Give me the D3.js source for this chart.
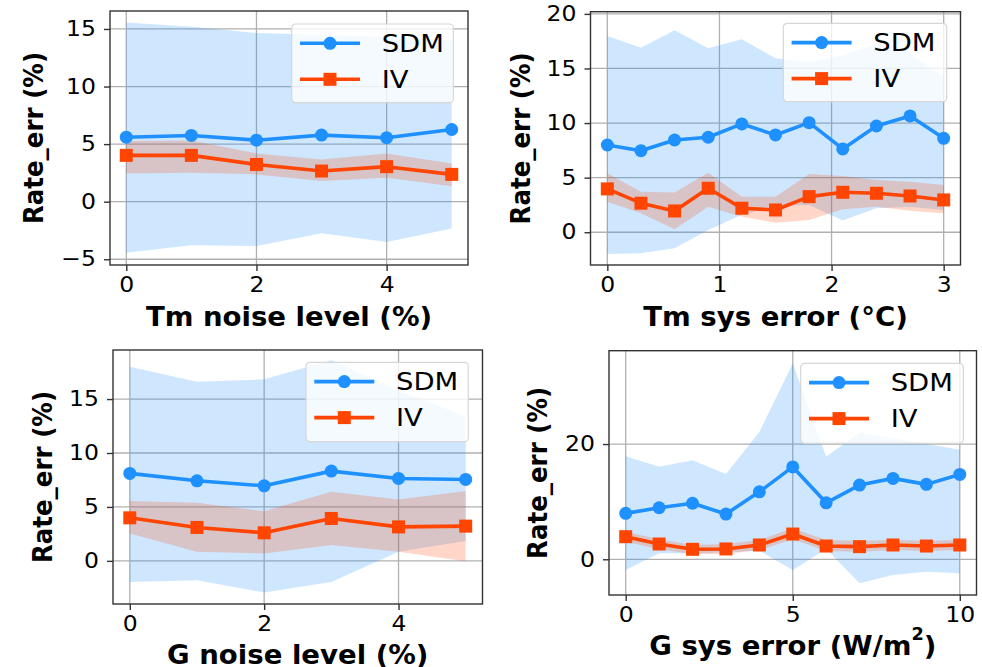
<!DOCTYPE html>
<html>
<head>
<meta charset="utf-8">
<script src="https://cdn.jsdelivr.net/npm/d3@7"></script>
<style>
  html, body { margin: 0; padding: 0; background: #fff; }
  svg { display: block; }
  text { font-family: "DejaVu Sans", sans-serif; fill: #000; }
</style>
</head>
<body>
<svg id="fig" width="982" height="667"></svg>
<script>
// ---- Tm noise level sweep ----
const tmNoiseX = [0, 1, 2, 3, 4, 5];
const tmNoiseSDM = [5.6, 5.75, 5.34, 5.78, 5.55, 6.27];
const tmNoiseSDMLow = [-4.43, -3.79, -3.85, -2.75, -3.5, -2.32];
const tmNoiseSDMHigh = [15.57, 15.2, 14.65, 14.5, 14.3, 14.0];
const tmNoiseIV = [4.02, 4.02, 3.23, 2.66, 3.04, 2.37];
const tmNoiseIVLow = [2.45, 2.51, 2.37, 1.79, 2.08, 1.35];
const tmNoiseIVHigh = [5.26, 5.32, 4.19, 3.67, 4.19, 3.32];

// ---- Tm systematic error sweep ----
const tmSysX = [0, 0.3, 0.6, 0.9, 1.2, 1.5, 1.8, 2.1, 2.4, 2.7, 3.0];
const tmSysSDM = [7.99, 7.47, 8.45, 8.7, 9.92, 8.91, 10.04, 7.63, 9.73, 10.65, 8.6];
const tmSysSDMLow = [-1.99, -1.93, -1.47, 0.21, 1.6, 2.4, 2.5, 1.07, 2.2, 2.34, 2.04];
const tmSysSDMHigh = [17.98, 16.9, 18.5, 16.85, 17.67, 15.93, 15.6, 16.2, 17.2, 16.4, 14.2];
const tmSysIV = [3.97, 2.66, 1.95, 4.03, 2.2, 2.04, 3.26, 3.66, 3.57, 3.32, 2.96];
const tmSysIVLow = [2.8, 1.74, 0.27, 2.34, 1.43, 0.88, 1.13, 2.1, 2.34, 1.98, 1.74];
const tmSysIVHigh = [5.4, 3.72, 3.63, 5.46, 3.26, 3.26, 5.34, 5.16, 4.79, 4.63, 4.33];

// ---- G noise level sweep ----
const gNoiseX = [0, 1, 2, 3, 4, 5];
const gNoiseSDM = [8.11, 7.42, 6.96, 8.32, 7.64, 7.55];
const gNoiseSDMLow = [-1.95, -1.79, -2.93, -1.95, 0.84, 1.83];
const gNoiseSDMHigh = [18.0, 16.6, 16.83, 18.6, 15.8, 13.4];
const gNoiseIV = [3.99, 3.1, 2.6, 3.93, 3.15, 3.22];
const gNoiseIVLow = [2.54, 0.84, 0.68, 1.46, 0.84, -0.03];
const gNoiseIVHigh = [5.54, 5.38, 4.61, 6.4, 5.7, 6.47];

// ---- G systematic error sweep ----
const gSysX = [0, 1, 2, 3, 4, 5, 6, 7, 8, 9, 10];
const gSysSDM = [7.97, 8.94, 9.71, 7.85, 11.7, 16.03, 9.8, 12.88, 14.04, 13.0, 14.73];
const gSysSDMLow = [-1.85, 1.04, 1.0, 1.2, 1.5, -1.85, 1.8, -4.16, -2.72, -2.15, -2.43];
const gSysSDMHigh = [17.9, 16.05, 17.2, 14.78, 22.1, 33.97, 17.78, 22.0, 21.0, 20.0, 19.0];
const gSysIV = [3.92, 2.65, 1.73, 1.79, 2.48, 4.38, 2.3, 2.19, 2.48, 2.3, 2.48];
const gSysIVLow = [3.05, 1.73, 0.92, 0.92, 1.61, 3.47, 1.44, 1.32, 1.61, 1.44, 1.61];
const gSysIVHigh = [4.79, 3.47, 2.48, 2.65, 3.34, 5.37, 3.34, 3.23, 3.34, 3.23, 3.34];

// ---- tick labels and axis titles ----
const tmNoiseXTicks = [0, 2, 4];
const tmNoiseYTicks = [-5, 0, 5, 10, 15];
const tmSysXTicks = [0, 1, 2, 3];
const tmSysYTicks = [0, 5, 10, 15, 20];
const gNoiseXTicks = [0, 2, 4];
const gNoiseYTicks = [0, 5, 10, 15];
const gSysXTicks = [0, 5, 10];
const gSysYTicks = [0, 20];
const seriesNames = ["SDM", "IV"];
const yTitle = "Rate_err (%)";

const SDM_COLOR = "#1e90ff";
const IV_COLOR = "#ff4500";
const STRETCH = 1.12;
const TITLE_STRETCH = 1.04;

const svg = d3.select("#fig");

const panels = [
  { x: tmNoiseX, sdm: tmNoiseSDM, sdmLo: tmNoiseSDMLow, sdmHi: tmNoiseSDMHigh,
    iv: tmNoiseIV, ivLo: tmNoiseIVLow, ivHi: tmNoiseIVHigh,
    xTicks: tmNoiseXTicks, yTicks: tmNoiseYTicks,
    xDom: [-0.25, 5.25], yDom: [-5.5, 16.56],
    box: { l: 110, t: 11, r: 468, b: 265 },
    xTitle: ["Tm noise level (%)"], xTitleY: 316, yTitleX: 34,
    legend: { l: 291.7, t: 24, w: 161.6, h: 78.7 } },
  { x: tmSysX, sdm: tmSysSDM, sdmLo: tmSysSDMLow, sdmHi: tmSysSDMHigh,
    iv: tmSysIV, ivLo: tmSysIVLow, ivHi: tmSysIVHigh,
    xTicks: tmSysXTicks, yTicks: tmSysYTicks,
    xDom: [-0.15, 3.15], yDom: [-3.0, 20.2],
    box: { l: 590.5, t: 11.7, r: 960.5, b: 265 },
    xTitle: ["Tm sys error (°C)"], xTitleY: 316, yTitleX: 521,
    legend: { l: 783.3, t: 23.3, w: 163.4, h: 78.4 } },
  { x: gNoiseX, sdm: gNoiseSDM, sdmLo: gNoiseSDMLow, sdmHi: gNoiseSDMHigh,
    iv: gNoiseIV, ivLo: gNoiseIVLow, ivHi: gNoiseIVHigh,
    xTicks: gNoiseXTicks, yTicks: gNoiseYTicks,
    xDom: [-0.25, 5.25], yDom: [-4.0, 19.55],
    box: { l: 113, t: 350, r: 482.5, b: 604 },
    xTitle: ["G noise level (%)"], xTitleY: 654, yTitleX: 42.5,
    legend: { l: 306, t: 362.3, w: 162.3, h: 79.4 } },
  { x: gSysX, sdm: gSysSDM, sdmLo: gSysSDMLow, sdmHi: gSysSDMHigh,
    iv: gSysIV, ivLo: gSysIVLow, ivHi: gSysIVHigh,
    xTicks: gSysXTicks, yTicks: gSysYTicks,
    xDom: [-0.5, 10.5], yDom: [-6.2, 36.2],
    box: { l: 609, t: 350.7, r: 976.5, b: 595 },
    xTitle: ["G sys error (W/m", "2", ")"], xTitleY: 645, yTitleX: 538,
    legend: { l: 800.7, t: 363.3, w: 162.6, h: 80 } }
];

panels.forEach((p, i) => {
  const B = p.box;
  const x = d3.scaleLinear().domain(p.xDom).range([B.l, B.r]);
  const y = d3.scaleLinear().domain(p.yDom).range([B.b, B.t]);
  const g = svg.append("g");

  g.append("rect").attr("x", B.l).attr("y", B.t)
    .attr("width", B.r - B.l).attr("height", B.b - B.t).attr("fill", "#fff");

  const clipId = "clip" + i;
  svg.append("clipPath").attr("id", clipId).append("rect")
    .attr("x", B.l).attr("y", B.t).attr("width", B.r - B.l).attr("height", B.b - B.t);

  // grid
  const grid = g.append("g").attr("stroke", "#b0b0b0").attr("stroke-width", 1.3);
  p.xTicks.forEach(v => grid.append("line")
    .attr("x1", x(v)).attr("x2", x(v)).attr("y1", B.t).attr("y2", B.b));
  p.yTicks.forEach(v => grid.append("line")
    .attr("x1", B.l).attr("x2", B.r).attr("y1", y(v)).attr("y2", y(v)));

  const plot = g.append("g").attr("clip-path", `url(#${clipId})`);
  const idx = d3.range(p.x.length);

  // uncertainty bands
  const band = (lo, hi) => d3.area()
    .x(j => x(p.x[j])).y0(j => y(lo[j])).y1(j => y(hi[j]));
  plot.append("path").attr("d", band(p.sdmLo, p.sdmHi)(idx))
    .attr("fill", SDM_COLOR).attr("fill-opacity", 0.22);
  plot.append("path").attr("d", band(p.ivLo, p.ivHi)(idx))
    .attr("fill", IV_COLOR).attr("fill-opacity", 0.22);

  // mean lines with markers
  const line = vals => d3.line().x(j => x(p.x[j])).y(j => y(vals[j]));
  plot.append("path").attr("d", line(p.sdm)(idx)).attr("fill", "none")
    .attr("stroke", SDM_COLOR).attr("stroke-width", 3.6).attr("stroke-linejoin", "round");
  plot.selectAll(null).data(idx).join("circle")
    .attr("cx", j => x(p.x[j])).attr("cy", j => y(p.sdm[j])).attr("r", 6.5)
    .attr("fill", SDM_COLOR);
  plot.append("path").attr("d", line(p.iv)(idx)).attr("fill", "none")
    .attr("stroke", IV_COLOR).attr("stroke-width", 3.6).attr("stroke-linejoin", "round");
  plot.selectAll(null).data(idx).join("rect")
    .attr("x", j => x(p.x[j]) - 6.5).attr("y", j => y(p.iv[j]) - 6.5)
    .attr("width", 13).attr("height", 13).attr("fill", IV_COLOR);

  // frame
  g.append("rect").attr("x", B.l).attr("y", B.t)
    .attr("width", B.r - B.l).attr("height", B.b - B.t)
    .attr("fill", "none").attr("stroke", "#333").attr("stroke-width", 1.4);

  // axes
  const xAxis = g.append("g").attr("transform", `translate(0,${B.b})`)
    .call(d3.axisBottom(x).tickValues(p.xTicks).tickSize(6).tickPadding(6)
      .tickFormat(d3.format("d")));
  const yAxis = g.append("g").attr("transform", `translate(${B.l},0)`)
    .call(d3.axisLeft(y).tickValues(p.yTicks).tickSize(6).tickPadding(8)
      .tickFormat(v => v < 0 ? "\u2212" + Math.abs(v) : String(v)));
  [xAxis, yAxis].forEach(a => {
    a.select(".domain").remove();
    a.selectAll(".tick line").attr("stroke", "#333").attr("stroke-width", 1.4);
    a.selectAll(".tick text").attr("font-size", 21).attr("fill", "#000")
      .style("font-family", "'DejaVu Sans', sans-serif");
  });
  xAxis.selectAll(".tick text").attr("transform", `scale(${STRETCH},1)`);
  yAxis.selectAll(".tick text").attr("x", -14 / STRETCH)
    .attr("transform", `scale(${STRETCH},1)`);

  // axis titles
  const xt = g.append("g")
    .attr("transform", `translate(${(B.l + B.r) / 2},${p.xTitleY}) scale(${TITLE_STRETCH},1)`)
    .append("text").attr("text-anchor", "middle").attr("dominant-baseline", "central")
    .attr("font-size", 26.5).attr("font-weight", "bold");
  xt.append("tspan").text(p.xTitle[0]);
  if (p.xTitle.length > 1) {
    xt.append("tspan").attr("dy", -11).attr("font-size", 17).text(p.xTitle[1]);
    xt.append("tspan").attr("dy", 11).text(p.xTitle[2]);
  }
  g.append("text")
    .attr("transform", `translate(${p.yTitleX},${(B.t + B.b) / 2}) scale(${STRETCH},1) rotate(-90)`)
    .attr("text-anchor", "middle").attr("dominant-baseline", "central")
    .attr("font-size", 24.5).attr("font-weight", "bold").text(yTitle);

  // legend
  const L = p.legend;
  const lg = g.append("g").attr("transform", `translate(${L.l},${L.t})`);
  lg.append("rect").attr("width", L.w).attr("height", L.h).attr("rx", 4)
    .attr("fill", "#fff").attr("fill-opacity", 0.8)
    .attr("stroke", "#d6d6d6").attr("stroke-width", 1.2);
  seriesNames.forEach((name, k) => {
    const cy = 19.3 + k * 36;
    const col = k === 0 ? SDM_COLOR : IV_COLOR;
    lg.append("line").attr("x1", 8.3).attr("x2", 68.3).attr("y1", cy).attr("y2", cy)
      .attr("stroke", col).attr("stroke-width", 3.6);
    if (k === 0) {
      lg.append("circle").attr("cx", 38.3).attr("cy", cy).attr("r", 6.5).attr("fill", col);
    } else {
      lg.append("rect").attr("x", 31.8).attr("y", cy - 6.5).attr("width", 13).attr("height", 13)
        .attr("fill", col);
    }
    lg.append("g").attr("transform", `translate(90,${cy}) scale(${STRETCH},1)`)
      .append("text").attr("dominant-baseline", "central").attr("font-size", 24.5)
      .text(name);
  });
});
</script>
</body>
</html>
